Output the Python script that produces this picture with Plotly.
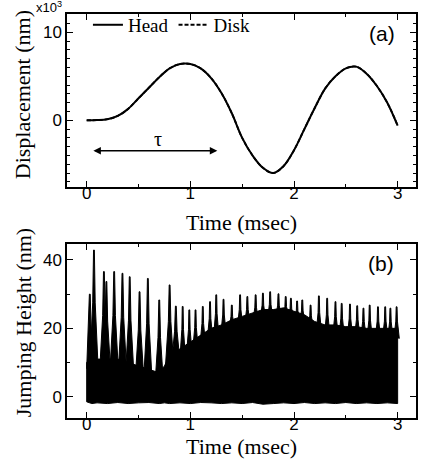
import plotly.graph_objects as go

# ---------------- data ----------------
# (a) displacement of head / disk, in units of 10^3 nm
time_a = [0.0, 0.1, 0.2, 0.3, 0.4, 0.5, 0.6, 0.7, 0.8, 0.9, 1.0,
          1.1, 1.2, 1.3, 1.4, 1.5, 1.6, 1.7, 1.8, 1.9, 2.0,
          2.1, 2.2, 2.3, 2.4, 2.5, 2.6, 2.7, 2.8, 2.9, 3.0]
head_disp = [0.0, 0.02, 0.12, 0.5, 1.3, 2.5, 3.7, 4.9, 5.9, 6.4, 6.4,
             5.9, 4.8, 3.1, 0.8, -2.0, -4.0, -5.4, -6.0, -5.2, -3.4,
             -1.0, 1.4, 3.6, 5.0, 5.9, 6.1, 5.3, 3.9, 2.0, -0.6]
disk_disp = [0.0, 0.02, 0.12, 0.5, 1.3, 2.5, 3.7, 4.9, 5.9, 6.4, 6.4,
             5.9, 4.8, 3.1, 0.8, -2.0, -4.0, -5.4, -6.0, -5.2, -3.4,
             -1.0, 1.4, 3.6, 5.0, 5.9, 6.1, 5.3, 3.9, 2.0, -0.6]
tau_start, tau_end, tau_level = 0.05, 1.26, -3.45

# (b) jumping height (nm): dense oscillation band plus its spikes
band_t = [0.0, 0.05, 0.1, 0.2, 0.3, 0.4, 0.5, 0.6, 0.7, 0.75, 0.8, 0.9,
          1.0, 1.1, 1.2, 1.3, 1.4, 1.5, 1.6, 1.7, 1.8, 1.9, 2.0,
          2.1, 2.2, 2.3, 2.4, 2.5, 2.6, 2.7, 2.8, 2.9, 3.0]
band_top = [10, 12, 11, 11, 11, 10, 9, 8, 7, 9, 12, 14,
            16, 18, 20, 21, 22.5, 23.5, 24.5, 25.5, 25.5, 26, 25,
            24, 22, 21, 21, 20.5, 20.5, 20, 20, 20, 20]
band_bottom = [-1.5, -2.0, -1.8, -2.0, -1.7, -2.0, -1.8, -1.7, -2.0, -1.8, -2.0, -1.8,
               -2.0, -1.7, -1.8, -2.0, -1.8, -2.0, -1.7, -2.2, -2.0, -1.8, -2.0,
               -1.7, -2.0, -1.8, -2.0, -1.7, -2.0, -1.8, -2.0, -1.8, -2.0]
spike_t = [0.03, 0.07, 0.166, 0.19, 0.265, 0.345, 0.415, 0.51, 0.59, 0.70,
           0.80, 0.86, 0.926, 0.99, 1.05, 1.12, 1.19, 1.25, 1.32, 1.40,
           1.48, 1.55, 1.63, 1.70, 1.77, 1.85, 1.92, 1.97, 2.03, 2.08,
           2.16, 2.24, 2.32, 2.40, 2.46, 2.54, 2.61, 2.67, 2.73, 2.81,
           2.88, 2.93, 2.99]
spike_h = [30, 42.9, 36.6, 33.7, 36.6, 36.1, 35.1, 30.7, 34.6, 28.3,
           32.7, 26.5, 26.4, 25.4, 25.4, 26.4, 27.8, 29.8, 28.5, 26.8,
           29.8, 29.3, 29.8, 30.3, 30.7, 30.1, 29.3, 28.8, 28.0, 28.3,
           26.8, 29.5, 28.8, 27.8, 27.3, 27.1, 26.6, 25.9, 26.8, 26.3,
           26.3, 25.9, 26.3]

# ---------------- styling ----------------
SANS = "Liberation Sans, Arial, sans-serif"
SERIF = "Liberation Serif, Times New Roman, serif"
INK = "black"


def band_value(t):
    # top of the band at time t, read piecewise from the band table
    for i in range(len(band_t) - 1):
        if band_t[i] <= t <= band_t[i + 1]:
            f = (t - band_t[i]) / (band_t[i + 1] - band_t[i])
            return band_top[i] + f * (band_top[i + 1] - band_top[i])
    return band_top[-1]


# band outline polygon
band_x = list(band_t) + list(reversed(band_t)) + [band_t[0]]
band_y = list(band_top) + list(reversed(band_bottom)) + [band_top[0]]

# spike polygons rising out of the band
sx, sy = [], []
for t, h in zip(spike_t, spike_h):
    base = band_value(t) - 3
    hw = 0.04 if t < 0.9 else 0.026
    mid = base + 0.55 * (h - base)
    left = max(t - hw, 0.0)
    sx += [left, t - hw * 0.3, t - 0.004, t + 0.004, t + hw * 0.3, t + hw, None]
    sy += [base, mid, h, h, mid, base, None]

fig = go.Figure()

fig.add_trace(go.Scatter(x=time_a, y=head_disp, mode="lines", name="Head",
                         line=dict(color=INK, width=2, shape="spline"),
                         xaxis="x", yaxis="y"))
fig.add_trace(go.Scatter(x=time_a, y=disk_disp, mode="lines", name="Disk",
                         line=dict(color=INK, width=1.8, dash="4px,2px", shape="spline"),
                         xaxis="x", yaxis="y"))

fig.add_trace(go.Scatter(x=band_x, y=band_y, mode="lines", fill="toself",
                         fillcolor=INK, line=dict(color=INK, width=1),
                         showlegend=False, xaxis="x2", yaxis="y2"))
fig.add_trace(go.Scatter(x=sx, y=sy, mode="lines", fill="toself",
                         fillcolor=INK, line=dict(color=INK, width=1),
                         showlegend=False, xaxis="x2", yaxis="y2"))

axis_common = dict(showline=True, linecolor=INK, linewidth=1.5, mirror="ticks",
                   ticks="inside", ticklen=6, tickwidth=1.2, tickcolor=INK,
                   showgrid=False, zeroline=False,
                   tickfont=dict(family=SANS, size=17, color=INK))

xaxis_common = dict(axis_common, ticklabelstandoff=-10)

fig.update_layout(
    width=422, height=462,
    margin=dict(l=67, r=4, t=14, b=44),
    paper_bgcolor="white", plot_bgcolor="white",
    showlegend=True,
    legend=dict(orientation="h", x=0.06, y=1.02, xanchor="left", yanchor="top",
                font=dict(family=SERIF, size=19, color=INK),
                bgcolor="rgba(0,0,0,0)", borderwidth=0, itemwidth=30,
                tracegroupgap=0),
    xaxis=dict(domain=[0, 1], anchor="y", range=[-0.19, 3.177], dtick=1,
               minor=dict(ticks="inside", dtick=0.5, ticklen=3, tickcolor=INK),
               **xaxis_common),
    yaxis=dict(domain=[0.5718, 1], anchor="x", range=[-7.58, 12.08],
               tickvals=[0, 10],
               minor=dict(ticks="inside", dtick=1, ticklen=3, tickcolor=INK),
               **axis_common),
    xaxis2=dict(domain=[0, 1], anchor="y2", range=[-0.19, 3.177], dtick=1,
                minor=dict(ticks="inside", dtick=0.5, ticklen=3, tickcolor=INK),
                **xaxis_common),
    yaxis2=dict(domain=[0, 0.4307], anchor="x2", range=[-6.23, 44.68], dtick=20,
                minor=dict(ticks="inside", dtick=10, ticklen=3, tickcolor=INK),
                **axis_common),
)

annotations = [
    # tau double arrow
    dict(x=tau_end, y=tau_level, ax=tau_start, ay=tau_level, xref="x", yref="y",
         axref="x", ayref="y", text="", showarrow=True, arrowhead=2,
         arrowside="end+start", arrowsize=1, arrowwidth=1.5, arrowcolor=INK),
    dict(x=(tau_start + tau_end) / 2 + 0.03, y=tau_level, xref="x", yref="y",
         text="τ", showarrow=False, xanchor="center", yanchor="bottom", yshift=-1,
         font=dict(family=SERIF, size=20, color=INK)),
    # panel tags
    dict(x=2.85, y=9.9, xref="x", yref="y", text="(a)", showarrow=False,
         xanchor="center", yanchor="middle",
         font=dict(family=SANS, size=21, color=INK)),
    dict(x=2.84, y=39.1, xref="x2", yref="y2", text="(b)", showarrow=False,
         xanchor="center", yanchor="middle",
         font=dict(family=SANS, size=21, color=INK)),
    # exponent of the top axis
    dict(x=-0.012, y=(418 - 16) / 404, xref="paper", yref="paper",
         text="x10<sup>3</sup>", showarrow=False, xanchor="right", yanchor="bottom",
         borderpad=0, font=dict(family=SANS, size=13, color=INK)),
    # axis titles
    dict(x=0.5, y=(418 - 222) / 404, xref="paper", yref="paper", text="Time (msec)",
         showarrow=False, xanchor="center", yanchor="middle",
         font=dict(family=SERIF, size=22, color=INK)),
    dict(x=0.5, y=(418 - 446) / 404, xref="paper", yref="paper", text="Time (msec)",
         showarrow=False, xanchor="center", yanchor="middle",
         font=dict(family=SERIF, size=22, color=INK)),
    dict(x=(23 - 67) / 351, y=(418 - 95) / 404, xref="paper", yref="paper",
         text="Displacement (nm)", textangle=-90, showarrow=False,
         xanchor="center", yanchor="middle",
         font=dict(family=SERIF, size=22, color=INK)),
    dict(x=(23 - 67) / 351, y=(418 - 323) / 404, xref="paper", yref="paper",
         text="Jumping Height (nm)", textangle=-90, showarrow=False,
         xanchor="center", yanchor="middle",
         font=dict(family=SERIF, size=22, color=INK)),
]
fig.update_layout(annotations=annotations)

fig.write_html("out.html")
